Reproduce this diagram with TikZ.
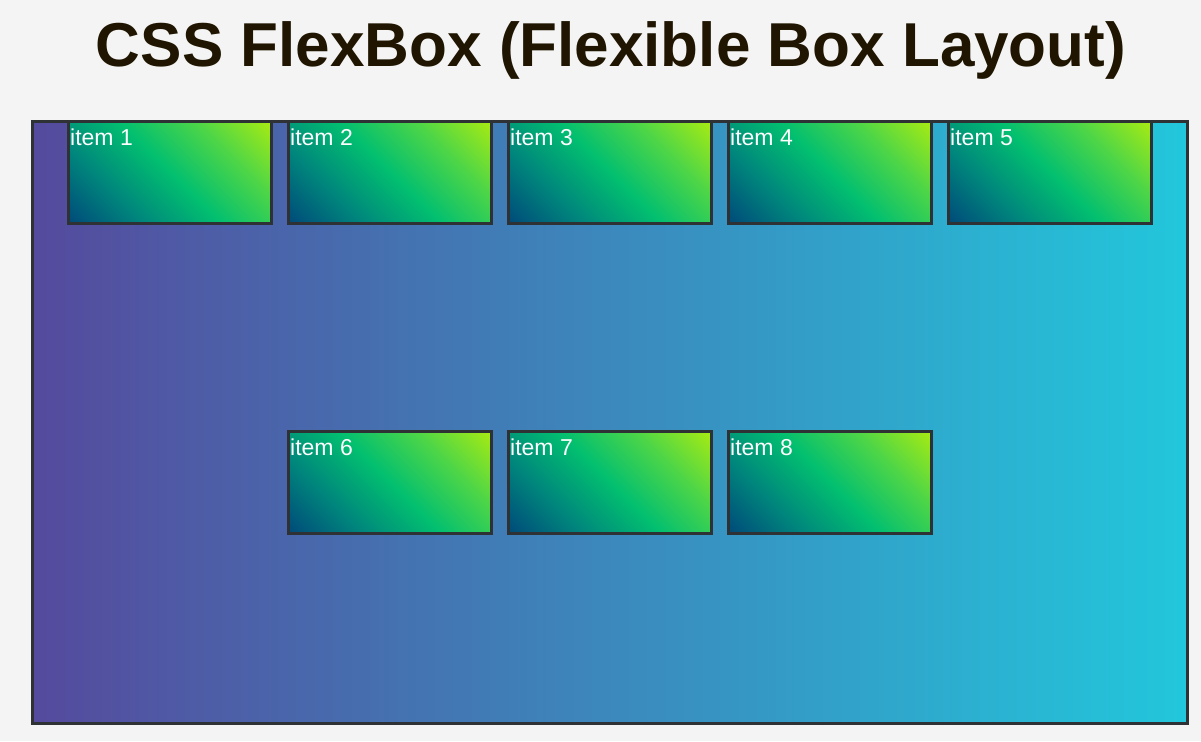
\documentclass[tikz,border=0pt]{standalone}
\usepackage{fontspec}
\setmainfont{Liberation Sans}
\definecolor{pagebg}{HTML}{F4F4F4}
\definecolor{titlecol}{HTML}{1F1500}
\definecolor{edgecol}{HTML}{2F3235}
\definecolor{boxleft}{HTML}{554A9D}
\definecolor{boxright}{HTML}{22C7DC}
\definecolor{gA}{HTML}{004A7A}
\definecolor{gB}{HTML}{00877C}
\definecolor{gC}{HTML}{02BF70}
\definecolor{gD}{HTML}{4CD548}
\definecolor{gE}{HTML}{A8EB12}
\pgfdeclarehorizontalshading{itemshade}{100bp}{color(0bp)=(gA); color(14.64bp)=(gA); color(32.32bp)=(gB); color(50bp)=(gC); color(67.68bp)=(gD); color(85.36bp)=(gE); color(100bp)=(gE)}
\tikzset{
  flexbox/.style={draw=edgecol, line width=3pt, inner sep=0pt,
    minimum width=1155pt, minimum height=602pt,
    shading=axis, left color=boxleft, right color=boxright},
  flexitem/.style={draw=edgecol, line width=3pt, inner sep=0pt,
    minimum width=203pt, minimum height=102pt,
    shading=itemshade, shading angle=45},
  itemlabel/.style={anchor=base west, inner sep=0pt, text=white,
    font=\fontsize{23}{27}\selectfont}
}
\begin{document}
\begin{tikzpicture}[x=1pt,y=-1pt]
\fill[pagebg] (0,0) rectangle (1201,741);
\useasboundingbox (0,0) rectangle (1201,741);
\node[anchor=base, inner sep=0pt, text=titlecol, font=\bfseries\fontsize{62}{70}\selectfont] (title) at (611,67) {CSS FlexBox (Flexible Box Layout)};
% container
\node[flexbox] (box) at (610,422.5) {};
% first line
\node[flexitem] (i1) at (170,172.5) {};
\node[flexitem] (i2) at (390,172.5) {};
\node[flexitem] (i3) at (610,172.5) {};
\node[flexitem] (i4) at (830,172.5) {};
\node[flexitem] (i5) at (1050,172.5) {};
% second line
\node[flexitem] (i6) at (390,482.5) {};
\node[flexitem] (i7) at (610,482.5) {};
\node[flexitem] (i8) at (830,482.5) {};
\node[itemlabel] (l1) at (70,145) {item 1};
\node[itemlabel] (l2) at (290,145) {item 2};
\node[itemlabel] (l3) at (510,145) {item 3};
\node[itemlabel] (l4) at (730,145) {item 4};
\node[itemlabel] (l5) at (950,145) {item 5};
\node[itemlabel] (l6) at (290,455) {item 6};
\node[itemlabel] (l7) at (510,455) {item 7};
\node[itemlabel] (l8) at (730,455) {item 8};
\end{tikzpicture}
\end{document}
